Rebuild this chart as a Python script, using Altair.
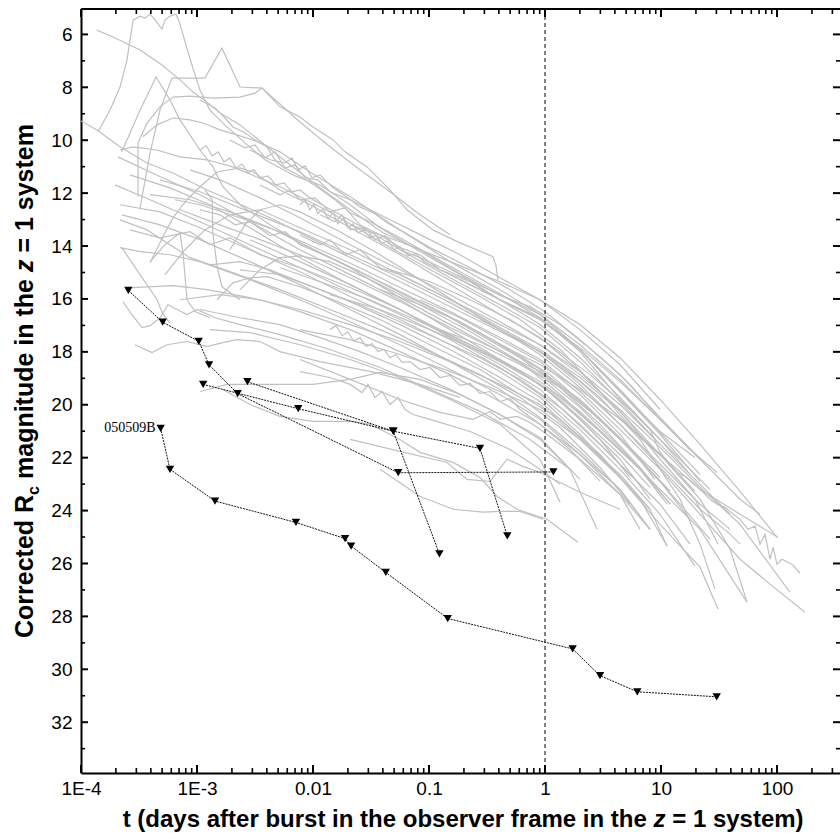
import altair as alt
import pandas as pd

# ---------------- grey afterglow light curves: (t in days, corrected Rc mag) ----------------
L_A = [(1.40e-4, 9.69), (1.78e-4, 8.86), (2.17e-4, 7.99), (2.49e-4, 6.97), (2.81e-4, 5.46), (3.23e-4, 5.31),
       (3.57e-4, 5.38), (3.94e-4, 5.23), (4.35e-4, 5.46), (4.99e-4, 5.80), (5.30e-4, 5.46), (5.85e-4, 5.31),
       (6.59e-4, 5.23), (7.13e-4, 5.61), (8.04e-4, 6.40), (9.05e-4, 7.16), (1.06e-3, 8.10), (1.29e-3, 8.86),
       (1.74e-3, 9.42), (2.59e-3, 10.10), (3.85e-3, 10.74), (7.00e-3, 11.35), (0.0115, 11.69), (0.0209, 12.44),
       (0.0378, 13.31), (0.0836, 14.21), (0.185, 15.08), (0.409, 16.03), (0.905, 16.71), (2.00, 17.91),
       (4.43, 19.50), (9.81, 21.01), (19.6, 21.99)]
L_B = [(1.37e-4, 5.84), (1.89e-4, 6.10), (3.23e-4, 6.59), (4.99e-4, 7.16), (7.13e-4, 7.72), (9.24e-4, 8.18),
       (1.22e-3, 8.56), (1.58e-3, 8.97), (2.35e-3, 9.42), (3.85e-3, 10.18), (6.33e-3, 10.93), (0.0115, 11.80),
       (0.0209, 12.63), (0.0401, 13.50), (0.0836, 14.14), (0.185, 15.05), (0.409, 15.87), (0.742, 16.29),
       (1.35, 16.97), (2.98, 18.18), (5.40, 19.23), (9.81, 20.55), (17.8, 21.69), (30.4, 22.56)]
L_N = [(1.06e-3, 8.48), (1.43e-3, 8.78), (1.74e-3, 9.16), (2.04e-3, 9.50), (2.59e-3, 9.72), (3.16e-3, 9.99),
       (4.01e-3, 10.25), (4.70e-3, 10.74), (5.51e-3, 11.01), (7.72e-3, 11.35), (0.0108, 11.76), (0.0155, 12.25),
       (0.0209, 12.74), (0.0310, 13.08), (0.0562, 13.69), (0.102, 14.33), (0.185, 14.97), (0.409, 15.80),
       (0.905, 16.71), (2.00, 17.99), (4.43, 19.80), (8.04, 20.93), (9.81, 21.80), (13.7, 22.56), (16.7, 22.75),
       (21.7, 23.20), (26.4, 23.57), (30.4, 23.76), (35.6, 23.88), (48.0, 24.33), (56.2, 24.71), (64.6, 24.59),
       (71.3, 25.27), (78.8, 24.89), (87.0, 25.84), (92.5, 25.39), (100, 26.03), (110, 25.84), (124, 25.95),
       (137, 26.06), (158, 26.37)]
L_NZ = [(2.86e-3, 10.37), (4.26e-3, 10.74), (5.74e-3, 10.86), (6.59e-3, 10.67), (7.43e-3, 11.12), (8.53e-3, 10.97),
        (9.80e-3, 11.42), (0.0115, 11.31), (0.0149, 11.80), (0.0189, 12.10), (0.0254, 12.52), (0.0342, 12.78),
        (0.0435, 13.12), (0.0562, 13.39), (0.102, 14.06), (0.226, 14.82), (0.499, 15.65), (1.00, 16.48),
        (2.00, 17.54), (4.43, 18.86), (9.81, 20.48), (21.7, 22.06)]
L_C = [(3.23e-4, 12.56), (3.94e-4, 10.48), (4.80e-4, 8.86), (6.08e-4, 7.65), (8.70e-4, 7.65), (1.17e-3, 7.65),
       (1.64e-3, 6.52), (2.35e-3, 7.99), (3.63e-3, 8.03), (5.19e-3, 8.74), (7.72e-3, 9.12), (0.0100, 9.50),
       (0.0149, 9.99), (0.0189, 10.44), (0.0292, 11.01), (0.0461, 11.88), (0.0646, 12.63), (0.108, 13.39),
       (0.185, 13.88), (0.356, 14.40), (0.378, 14.74), (0.393, 15.31)]
L_D = [(3.10e-4, 12.14), (3.10e-4, 10.10), (3.71e-4, 9.35), (4.80e-4, 8.74), (6.21e-4, 8.37), (8.70e-4, 8.33),
       (1.40e-3, 8.41), (2.35e-3, 8.37), (3.16e-3, 8.22), (3.63e-3, 8.03), (5.19e-3, 8.63), (7.72e-3, 9.31),
       (0.0140, 10.25), (0.0254, 11.12), (0.0461, 11.95), (0.0836, 12.82), (0.152, 13.57)]
L_E = [(2.25e-4, 10.44), (3.23e-4, 8.86), (4.44e-4, 7.61), (5.85e-4, 8.48), (7.13e-4, 9.23), (1.06e-3, 10.37),
       (1.37e-3, 11.01), (1.67e-3, 11.76), (2.35e-3, 12.44), (4.26e-3, 13.20), (7.72e-3, 13.88), (0.0209, 14.82),
       (0.0562, 15.95), (0.152, 16.97), (0.409, 17.99), (0.905, 18.86), (2.00, 20.10), (4.43, 21.61), (8.04, 22.82)]
L_G = [(3.42e-4, 9.87), (4.52e-4, 9.42), (6.21e-4, 9.16), (8.70e-4, 9.23), (1.13e-3, 9.35), (1.58e-3, 9.61),
       (2.21e-3, 9.80), (3.04e-3, 9.99), (5.19e-3, 10.44), (9.42e-3, 11.20), (0.0209, 12.14), (0.0562, 13.39),
       (0.152, 14.59), (0.409, 15.65), (0.905, 16.59), (2.00, 17.91), (4.43, 19.50), (9.81, 21.12), (21.7, 22.90)]
L_H = [(1.00e-4, 9.27), (1.37e-4, 9.61), (2.17e-4, 10.25), (3.71e-4, 10.86), (6.21e-4, 11.24), (1.22e-3, 11.88),
       (1.92e-3, 12.25), (4.26e-3, 12.93), (0.0115, 13.88), (0.0378, 14.97), (0.124, 16.10), (0.409, 17.23),
       (0.905, 17.99), (2.00, 19.23), (4.43, 20.74), (9.81, 22.37), (21.7, 23.95), (39.4, 24.89), (48.0, 25.27)]
L_J = [(2.17e-4, 10.37), (2.81e-4, 10.25), (4.52e-4, 10.37), (7.13e-4, 10.63), (1.22e-3, 10.74), (2.04e-3, 11.01),
       (5.19e-3, 11.76), (0.0140, 12.71), (0.0378, 13.84), (0.102, 14.89), (0.275, 15.91), (0.608, 16.78),
       (1.35, 17.91), (2.98, 19.50), (6.59, 21.24), (11.3, 22.14)]
L_K1 = [(3.94e-4, 14.63), (5.30e-4, 13.50), (6.21e-4, 12.93), (8.20e-4, 12.25), (1.06e-3, 11.76), (1.49e-3, 11.20),
        (2.35e-3, 11.05), (3.04e-3, 11.20), (5.19e-3, 11.88), (9.42e-3, 12.44), (0.0209, 13.31), (0.0562, 14.33),
        (0.152, 15.46), (0.409, 16.59), (0.905, 17.46), (2.00, 18.74), (4.43, 20.25), (9.81, 21.88), (19.6, 23.27)]
L_K2 = [(1.49e-3, 16.03), (2.04e-3, 15.39), (2.86e-3, 15.20), (4.01e-3, 15.16), (7.72e-3, 15.54), (0.0149, 16.03),
        (0.0378, 16.78), (0.102, 17.73), (0.275, 18.67), (0.608, 19.61), (1.35, 20.55), (2.98, 21.88),
        (6.59, 23.57), (11.3, 25.35)]
L_K4 = [(3.94e-4, 14.59), (5.30e-4, 13.95), (7.13e-4, 13.50), (7.57e-4, 14.25), (8.20e-4, 16.03), (9.62e-4, 16.48),
        (1.29e-3, 16.71)]
L_K5 = [(1.17e-3, 11.88), (1.35e-3, 12.25), (1.37e-3, 13.50), (1.49e-3, 14.78), (1.64e-3, 15.54), (2.35e-3, 16.03)]
L_G1 = [(2.08e-4, 10.63), (3.94e-4, 11.20), (1.06e-3, 12.06), (2.86e-3, 13.08), (7.72e-3, 14.14), (0.0209, 15.08),
        (0.0562, 16.03), (0.152, 17.16), (0.409, 18.29), (0.905, 19.23), (2.00, 20.55), (4.43, 22.06), (8.04, 23.57)]
L_G2 = [(1.96e-4, 11.69), (3.94e-4, 12.25), (1.06e-3, 13.08), (2.86e-3, 13.95), (7.72e-3, 14.82), (0.0209, 15.72),
        (0.0562, 16.59), (0.152, 17.54), (0.409, 18.59), (0.905, 19.61), (2.00, 20.93), (4.43, 22.44),
        (9.81, 24.14), (19.6, 26.10)]
L_G3 = [(2.17e-4, 12.44), (4.80e-4, 12.71), (1.06e-3, 13.31), (2.86e-3, 14.14), (7.72e-3, 14.97), (0.0209, 15.91),
        (0.0562, 16.78), (0.152, 17.73), (0.409, 18.74), (0.905, 19.72), (2.00, 21.12), (4.43, 22.75),
        (9.81, 24.52), (21.7, 26.14), (31.0, 27.73)]
L_G4 = [(2.25e-4, 12.82), (4.80e-4, 13.20), (1.06e-3, 13.76), (2.86e-3, 14.59), (7.72e-3, 15.46), (0.0209, 16.40),
        (0.0562, 17.35), (0.152, 18.37), (0.409, 19.42), (0.905, 20.48), (2.00, 21.76), (4.43, 23.20), (8.04, 24.71)]
L_G5 = [(2.17e-4, 14.06), (3.23e-4, 14.21), (5.85e-4, 14.33), (1.06e-3, 14.59), (2.86e-3, 15.27), (7.72e-3, 16.03),
        (0.0209, 16.86), (0.0562, 17.73), (0.152, 18.67), (0.409, 19.61), (0.905, 20.55), (2.00, 21.88),
        (4.43, 23.39), (6.59, 24.71)]
L_G6 = [(2.64e-4, 13.39), (4.80e-4, 13.69), (8.70e-4, 13.46), (1.29e-3, 13.95), (1.92e-3, 13.69), (3.49e-3, 14.33),
        (7.72e-3, 14.82), (0.0209, 15.57), (0.0562, 16.40), (0.152, 17.35), (0.409, 18.29), (0.905, 19.12),
        (2.00, 20.25), (4.43, 21.69), (9.81, 23.20), (21.7, 24.71), (55.1, 27.46)]
L_G7 = [(4.80e-4, 11.50), (1.06e-3, 11.95), (2.86e-3, 12.71), (7.72e-3, 13.46), (0.0209, 14.33), (0.0562, 15.20),
        (0.152, 16.14), (0.409, 17.16), (0.905, 17.99), (2.00, 19.12), (4.43, 20.48), (9.81, 21.88),
        (21.7, 23.20), (48.0, 24.14), (102, 25.01)]
L_G8 = [(6.46e-4, 12.25), (1.06e-3, 12.44), (2.35e-3, 12.93), (5.19e-3, 13.46), (0.0115, 14.14), (0.0254, 14.82),
        (0.0562, 15.57), (0.152, 16.48), (0.409, 17.46), (0.905, 18.29), (2.00, 19.50), (4.43, 20.93),
        (9.81, 22.44), (21.7, 24.14), (48.0, 25.84), (87.0, 26.78), (174, 27.84)]
L_G9 = [(8.70e-4, 11.12), (1.58e-3, 11.50), (3.49e-3, 12.18), (7.72e-3, 12.93), (0.0209, 13.95), (0.0562, 14.90),
        (0.152, 15.84), (0.409, 16.86), (0.905, 17.73), (2.00, 18.86), (4.43, 20.18), (9.81, 21.61),
        (21.7, 23.12), (48.0, 24.52), (129, 27.08)]
L_G10 = [(5.30e-4, 15.08), (7.88e-4, 14.14), (1.17e-3, 13.39), (1.92e-3, 12.82), (3.49e-3, 12.63), (7.72e-3, 13.31),
         (0.0209, 14.14), (0.0562, 15.08), (0.152, 16.03), (0.409, 17.08), (0.905, 17.91), (2.00, 18.97),
         (4.43, 20.25), (9.81, 22.06), (19.6, 23.57), (31.0, 25.27)]
L_G11 = [(1.29e-3, 14.71), (2.35e-3, 14.59), (4.26e-3, 14.90), (7.72e-3, 15.35), (0.0209, 16.10), (0.0562, 16.97),
         (0.152, 17.91), (0.409, 18.97), (0.905, 19.88), (2.00, 21.24), (4.43, 22.75), (8.04, 23.95), (11.3, 25.35)]
L_G12 = [(7.13e-4, 16.03), (1.58e-3, 15.84), (3.49e-3, 16.03), (7.72e-3, 16.48), (0.0209, 17.16), (0.0562, 17.99),
         (0.152, 18.86), (0.409, 19.88), (0.905, 20.74), (2.00, 21.88), (4.43, 23.20), (8.04, 24.71)]
L_G13 = [(1.06e-3, 16.40), (2.35e-3, 16.71), (5.19e-3, 16.97), (0.0115, 17.46), (0.0254, 17.99), (0.0562, 18.59),
         (0.152, 19.42), (0.409, 20.37), (0.905, 21.31), (1.64, 22.44), (2.81, 24.71)]
L_G14 = [(1.29e-3, 17.16), (2.86e-3, 17.27), (7.72e-3, 17.73), (0.0209, 18.29), (0.0562, 18.97), (0.152, 19.80),
         (0.409, 20.74), (0.905, 22.06), (1.35, 23.69)]
L_G15 = [(1.06e-3, 12.63), (1.58e-3, 12.82), (2.13e-3, 13.20), (2.86e-3, 13.08), (4.26e-3, 13.61), (5.74e-3, 13.46),
         (7.72e-3, 13.95), (0.0140, 14.44), (0.0254, 14.97), (0.0562, 15.72), (0.124, 16.48), (0.275, 17.35),
         (0.608, 18.22), (1.35, 19.35), (2.98, 20.74), (6.59, 22.37), (12.0, 23.76)]
L_G16 = [(2.64e-4, 11.31), (5.85e-4, 11.80), (1.29e-3, 12.44), (2.86e-3, 13.31), (7.72e-3, 14.44), (0.0209, 15.46),
         (0.0562, 16.40), (0.152, 17.46), (0.409, 18.48), (0.905, 19.42), (2.00, 20.74), (4.43, 22.25),
         (9.81, 23.76), (17.8, 25.27)]
L_G17 = [(1.92e-3, 14.14), (2.59e-3, 13.20), (3.49e-3, 12.63), (5.19e-3, 12.44), (7.72e-3, 12.71), (0.0171, 13.46),
         (0.0378, 14.33), (0.0836, 15.27), (0.185, 16.22), (0.409, 17.16), (0.905, 18.10), (2.00, 19.35),
         (4.43, 20.74), (9.81, 22.25), (21.7, 23.76), (39.4, 24.71)]
L_G18 = [(2.35e-3, 15.65), (3.49e-3, 14.90), (5.19e-3, 14.44), (7.72e-3, 14.37), (0.0140, 14.59), (0.0310, 15.27),
         (0.0836, 16.22), (0.226, 17.23), (0.608, 18.37), (1.35, 19.61), (2.98, 21.01), (6.59, 22.44), (11.3, 23.76)]
L_G19 = [(3.49e-3, 11.69), (5.19e-3, 12.06), (6.33e-3, 11.88), (7.72e-3, 12.25), (0.0104, 12.18), (0.0140, 12.71),
         (0.0189, 12.56), (0.0254, 13.20), (0.0378, 13.57), (0.0562, 14.06), (0.0836, 14.33), (0.124, 14.90),
         (0.226, 15.35), (0.409, 16.03), (0.905, 16.97), (2.00, 18.22), (4.43, 19.72), (9.81, 21.31), (17.8, 22.63)]
L_G20 = [(2.75e-4, 15.57), (6.21e-4, 15.50), (1.22e-3, 15.65), (2.86e-3, 15.95), (7.72e-3, 16.40), (0.0209, 16.97),
         (0.0562, 17.61), (0.152, 18.37), (0.409, 19.23), (0.905, 19.99), (2.00, 21.31), (4.43, 22.75)]
L_G21 = [(2.17e-4, 13.01), (3.71e-4, 13.39), (5.51e-4, 13.88), (8.70e-4, 14.44), (1.92e-3, 14.97), (5.19e-3, 15.65),
         (0.0140, 16.40), (0.0378, 17.16), (0.102, 17.99), (0.275, 18.86), (0.608, 19.72), (1.35, 20.86),
         (2.98, 22.37), (5.40, 23.76)]
L_M1 = [(2.86e-3, 13.76), (7.72e-3, 14.59), (0.0209, 15.46), (0.0562, 16.40), (0.152, 17.43), (0.409, 18.37),
        (0.905, 19.23), (2.00, 20.48), (4.43, 21.88), (8.04, 23.12)]
L_M2 = [(5.19e-3, 14.82), (0.0115, 15.35), (0.0310, 16.03), (0.0836, 16.86), (0.226, 17.73), (0.608, 18.74),
        (1.35, 19.72), (2.98, 21.01), (6.59, 22.44), (12.0, 23.76)]
L_M3 = [(7.72e-3, 13.58), (0.0115, 13.95), (0.0140, 13.76), (0.0189, 14.33), (0.0254, 14.14), (0.0378, 14.82),
        (0.0562, 15.08), (0.102, 15.65), (0.226, 16.40), (0.409, 16.97), (0.905, 17.73), (2.00, 18.74),
        (4.43, 19.99), (9.81, 21.50), (21.7, 23.01), (39.4, 24.14)]
L_M4 = [(0.0140, 15.84), (0.0378, 16.40), (0.102, 17.16), (0.275, 17.99), (0.608, 18.74), (1.35, 19.80),
        (2.98, 21.31), (5.40, 22.75)]
L_M5 = [(0.0461, 14.90), (0.102, 15.35), (0.226, 16.03), (0.499, 16.78), (1.10, 17.73), (2.44, 18.86),
        (5.40, 20.18), (12.0, 21.69), (26.4, 23.20)]
L_M6 = [(0.0836, 16.03), (0.185, 16.71), (0.409, 17.54), (0.905, 18.37), (2.00, 19.61), (4.43, 21.12), (8.87, 22.82)]
L_M7 = [(0.124, 17.16), (0.275, 17.73), (0.608, 18.48), (1.35, 19.35), (2.98, 20.55), (6.59, 22.06),
        (14.6, 23.76), (26.4, 25.08)]
L_M8 = [(0.185, 15.27), (0.409, 16.03), (0.905, 16.78), (2.00, 17.84), (4.43, 19.12), (9.81, 20.55),
        (21.7, 22.06), (48.0, 23.57), (71.3, 24.14)]
L_M9 = [(0.275, 16.78), (0.608, 17.54), (1.35, 18.48), (2.98, 19.72), (6.59, 21.31), (14.6, 23.57),
        (21.7, 25.27), (29.2, 26.97)]
L_M10 = [(0.409, 17.73), (0.905, 18.48), (2.00, 19.42), (4.43, 20.55), (9.81, 21.88), (21.7, 23.57),
         (39.4, 25.46), (55.1, 27.46)]
L_M11 = [(0.0115, 12.82), (0.0155, 13.08), (0.0178, 12.82), (0.0209, 13.39), (0.0281, 13.31), (0.0342, 13.76),
         (0.0418, 13.61), (0.0562, 14.14), (0.0836, 14.44), (0.152, 14.97), (0.409, 15.84), (0.905, 16.59),
         (2.00, 17.73), (4.43, 19.04), (9.81, 20.55), (17.8, 21.69)]
L_M12 = [(7.72e-3, 17.16), (0.0209, 17.54), (0.0562, 18.10), (0.152, 18.74), (0.409, 19.50), (0.905, 20.18),
         (2.00, 21.31), (4.43, 22.63), (8.04, 23.95)]
L_M13 = [(2.35e-3, 14.90), (5.19e-3, 15.08), (0.0115, 15.65), (0.0254, 16.22), (0.0562, 16.86), (0.124, 17.54),
         (0.275, 18.22), (0.608, 19.04), (1.35, 20.10), (2.98, 21.50), (6.59, 23.01)]
L_M14 = [(0.0209, 13.20), (0.0562, 13.84), (0.152, 14.59), (0.409, 15.35), (0.905, 16.03), (2.00, 16.97),
         (4.43, 18.22), (9.81, 19.80), (21.7, 21.50), (48.0, 23.27), (100, 25.01)]
L_M15 = [(0.0378, 15.65), (0.0836, 16.22), (0.185, 16.86), (0.409, 17.73), (0.905, 18.67), (2.00, 19.88),
         (4.43, 21.31), (9.81, 22.90), (17.8, 24.33)]
L_M16 = [(7.13e-4, 12.63), (1.58e-3, 13.20), (3.49e-3, 13.76), (7.72e-3, 14.33), (0.0209, 15.20), (0.0562, 16.10),
         (0.152, 17.08), (0.409, 17.99), (0.905, 18.74), (2.00, 19.80), (4.43, 21.24), (9.81, 22.75)]
L_M17 = [(3.94e-4, 12.06), (8.70e-4, 12.25), (1.92e-3, 12.71), (4.26e-3, 13.31), (9.42e-3, 14.06), (0.0254, 14.97),
         (0.0686, 15.95), (0.185, 16.86), (0.499, 17.91), (1.10, 18.86), (2.44, 20.18), (5.40, 21.69), (12.0, 23.27)]
L_M18 = [(1.92e-3, 9.99), (2.59e-3, 10.29), (3.16e-3, 10.18), (3.85e-3, 10.67), (4.70e-3, 10.44), (5.74e-3, 11.05),
         (7.00e-3, 10.93), (8.53e-3, 11.42), (0.0110, 11.50), (0.0140, 11.95), (0.0209, 12.25), (0.0378, 12.82),
         (0.0836, 13.57), (0.185, 14.33), (0.409, 15.20), (0.905, 16.03), (2.00, 17.16), (4.43, 18.48),
         (9.81, 20.18)]
# noisy (jagged) light curves
L_Q1 = [(7.72e-3, 12.44), (8.53e-3, 12.25), (9.42e-3, 12.63), (0.0102, 12.40), (0.0110, 12.78), (0.0122, 12.59),
        (0.0135, 12.97), (0.0149, 12.74), (0.0164, 13.16), (0.0181, 12.97), (0.0200, 13.31), (0.0221, 13.16),
        (0.0244, 13.50), (0.0275, 13.39), (0.0310, 13.69), (0.0349, 13.61), (0.0394, 13.91), (0.0443, 13.80),
        (0.0499, 14.14), (0.0562, 14.03), (0.0659, 14.37), (0.0773, 14.29), (0.0906, 14.59), (0.124, 14.90),
        (0.226, 15.46), (0.409, 16.03), (0.905, 16.78), (2.00, 17.91), (4.43, 19.42), (9.81, 21.05), (21.7, 22.63)]
L_Q2 = [(0.0140, 17.16), (0.0158, 17.01), (0.0178, 17.39), (0.0200, 17.24), (0.0225, 17.61), (0.0254, 17.46),
        (0.0286, 17.80), (0.0323, 17.69), (0.0363, 17.99), (0.0409, 17.91), (0.0461, 18.22), (0.0519, 18.10),
        (0.0585, 18.40), (0.0686, 18.37), (0.0836, 18.67), (0.102, 18.59), (0.124, 18.97), (0.152, 18.89),
        (0.185, 19.27), (0.226, 19.19), (0.275, 19.57), (0.336, 19.50), (0.409, 19.88), (0.499, 19.76),
        (0.608, 20.18), (0.905, 20.74), (1.64, 21.69), (2.98, 22.89)]
L_Q3 = [(1.06e-3, 10.37), (1.20e-3, 10.21), (1.35e-3, 10.59), (1.52e-3, 10.44), (1.71e-3, 10.82), (1.92e-3, 10.67),
        (2.17e-3, 11.05), (2.44e-3, 10.90), (2.75e-3, 11.23), (3.10e-3, 11.12), (3.49e-3, 11.42), (4.09e-3, 11.35),
        (4.80e-3, 11.69), (5.62e-3, 11.61), (6.59e-3, 11.95), (7.72e-3, 11.88), (9.42e-3, 12.18), (0.0115, 12.40),
        (0.0171, 12.82), (0.0310, 13.46), (0.0562, 14.14), (0.152, 15.20), (0.409, 16.22), (0.905, 17.08),
        (2.00, 18.37), (4.43, 19.88), (9.81, 21.50)]
L_LO1 = [(1.67e-3, 19.42), (2.86e-3, 19.99), (5.19e-3, 20.44), (0.0100, 20.63), (0.0221, 20.63), (0.0310, 20.74),
         (0.0562, 21.31), (0.0836, 21.80), (0.161, 22.18), (0.275, 22.75), (0.386, 23.46), (0.574, 23.95),
         (1.04, 24.33), (1.92, 25.20)]
L_LO2 = [(1.06e-3, 19.50), (1.82e-3, 19.23), (4.26e-3, 19.23), (0.0100, 19.23), (0.0209, 19.04), (0.0378, 18.78),
         (0.0836, 19.04), (0.185, 19.61), (0.409, 20.37), (0.905, 21.24), (2.00, 22.82)]
L_LO3 = [(7.72e-3, 18.75), (0.0140, 18.97), (0.0209, 19.23), (0.0264, 19.54), (0.0298, 19.23), (0.0342, 19.73),
         (0.0394, 19.50), (0.0461, 19.99), (0.0541, 19.73), (0.0621, 20.18), (0.0728, 20.37), (0.102, 20.55),
         (0.226, 21.01), (0.499, 21.69), (0.905, 22.44), (1.35, 23.01)]
L_LO4 = [(7.72e-3, 18.29), (0.0209, 19.04), (0.0562, 19.80), (0.124, 20.29), (0.239, 20.55), (0.336, 20.25),
         (0.409, 20.55), (0.499, 20.48), (0.574, 20.44), (0.742, 20.67), (0.905, 20.93), (2.00, 22.06),
         (4.43, 23.39), (8.04, 24.71)]
L_LO5 = [(0.0209, 21.31), (0.0562, 21.76), (0.143, 22.18), (0.213, 22.82), (0.336, 22.90), (0.470, 22.06),
         (0.646, 22.33), (0.905, 22.56), (2.00, 23.31), (4.43, 23.95)]
L_LO6 = [(0.0378, 22.44), (0.0836, 23.46), (0.161, 23.95), (0.292, 24.06), (0.409, 24.03), (0.608, 24.03),
         (0.962, 24.33)]
L_O1 = [(2.25e-4, 14.06), (3.10e-4, 14.97), (4.52e-4, 16.03), (5.09e-4, 16.59), (5.85e-4, 16.90)]
L_O2 = [(2.30e-4, 16.10), (2.70e-4, 16.55), (3.36e-4, 17.08), (3.94e-4, 17.01), (4.80e-4, 16.71), (5.62e-4, 16.22),
        (6.73e-4, 16.40), (8.20e-4, 16.59), (1.00e-3, 16.40), (1.43e-3, 16.71), (2.35e-3, 16.97), (5.19e-3, 17.35),
        (0.0140, 17.91), (0.0378, 18.59), (0.102, 19.42), (0.275, 20.25), (0.742, 21.31), (1.64, 22.44)]
L_O3 = [(2.92e-4, 17.73), (4.09e-4, 18.03), (5.51e-4, 17.73), (8.20e-4, 17.61), (1.22e-3, 17.80), (1.67e-3, 17.65),
        (2.21e-3, 17.54), (3.49e-3, 17.61), (5.19e-3, 17.99), (0.0115, 18.37), (0.0310, 18.74), (0.0836, 19.23),
        (0.185, 19.72)]

GREY_CURVES = [L_A, L_B, L_N, L_NZ, L_C, L_D, L_E, L_G, L_H, L_J, L_K1, L_K2, L_K4, L_K5,
               L_G1, L_G2, L_G3, L_G4, L_G5, L_G6, L_G7, L_G8, L_G9, L_G10, L_G11, L_G12, L_G13, L_G14,
               L_G15, L_G16, L_G17, L_G18, L_G19, L_G20, L_G21,
               L_M1, L_M2, L_M3, L_M4, L_M5, L_M6, L_M7, L_M8, L_M9, L_M10, L_M11, L_M12, L_M13, L_M14,
               L_M15, L_M16, L_M17, L_M18, L_Q1, L_Q2, L_Q3,
               L_LO1, L_LO2, L_LO3, L_LO4, L_LO5, L_LO6, L_O1, L_O2, L_O3]

# ---------------- black upper-limit series (triangles) ----------------
S_1 = [(2.56e-4, 15.68), (5.06e-4, 16.88), (1.035e-3, 17.60), (1.27e-3, 18.49), (2.24e-3, 19.58),
       (5.43e-2, 22.57), (1.18, 22.54)]
S_2 = [(1.13e-3, 19.23), (7.46e-3, 20.15), (4.92e-2, 21.00), (0.123, 25.64)]
S_3 = [(2.72e-3, 19.13), (4.92e-2, 21.00), (0.275, 21.65), (0.473, 24.96)]
S_050509B = [(4.86e-4, 20.89), (5.85e-4, 22.44), (1.43e-3, 23.64), (7.13e-3, 24.45), (0.0189, 25.06),
             (0.0213, 25.34), (0.0424, 26.34), (0.145, 28.08), (1.73, 29.23), (2.98, 30.24), (6.25, 30.85),
             (30.2, 31.04)]
BLACK_SERIES = [S_1, S_2, S_3, S_050509B]
LABEL_TEXT = "050509B"

# ---------------- axes ----------------
X_MAJOR = [1e-4, 1e-3, 1e-2, 1e-1, 1, 10, 100]
X_MINOR = [m * d for d in [1e-4, 1e-3, 1e-2, 1e-1, 1, 10, 100] for m in range(2, 10) if m * d <= 340]
Y_MAJOR = list(range(6, 33, 2))
Y_MINOR = list(range(7, 34, 2))
X_DOMAIN = [1e-4, 349]
Y_DOMAIN = [5.04, 33.92]
VLINE_T = [1]

W, H = 759, 764
FONT = "Liberation Sans"

grey_rows = []
for i, curve in enumerate(GREY_CURVES):
    for k, (t, m) in enumerate(curve):
        grey_rows.append({"id": i, "k": k, "t": t, "mag": m})
df_grey = pd.DataFrame(grey_rows)

black_rows = []
for i, curve in enumerate(BLACK_SERIES):
    for k, (t, m) in enumerate(curve):
        black_rows.append({"id": i, "k": k, "t": t, "mag": m})
df_black = pd.DataFrame(black_rows)
df_label = pd.DataFrame([{"t": S_050509B[0][0], "mag": S_050509B[0][1], "txt": LABEL_TEXT}])

xs = alt.Scale(type="log", domain=X_DOMAIN, nice=False)
ys = alt.Scale(domain=Y_DOMAIN, reverse=True, nice=False, zero=False)

label_expr = ("datum.value < 0.0005 ? '1E-4' : datum.value < 0.005 ? '1E-3' : datum.value < 0.05 ? '0.01' : "
              "datum.value < 0.5 ? '0.1' : datum.value < 5 ? '1' : datum.value < 50 ? '10' : '100'")
x_axis = alt.Axis(values=X_MAJOR, labelExpr=label_expr, ticks=False, grid=False, title=None,
                  domainColor="black", domainWidth=2, labelFont=FONT, labelFontSize=19, labelColor="black",
                  labelPadding=6, labelFlush=False, labelOverlap=False)
y_axis = alt.Axis(values=Y_MAJOR, ticks=False, grid=False, title=None, domainColor="black", domainWidth=2,
                  labelFont=FONT, labelFontSize=19, labelColor="black", labelPadding=9)

X_ENC = dict(scale=xs, axis=x_axis)
Y_ENC = dict(scale=ys, axis=y_axis)

grey = alt.Chart(df_grey).mark_line(color="#c0c0c0", strokeWidth=1.2, clip=True).encode(
    x=alt.X("t:Q", **X_ENC),
    y=alt.Y("mag:Q", **Y_ENC),
    detail="id:N",
    order="k:Q",
)

vline = alt.Chart(pd.DataFrame({"t": VLINE_T})).mark_rule(color="black", strokeWidth=1, strokeDash=[4, 3]).encode(
    x=alt.X("t:Q", **X_ENC)
)

black_line = alt.Chart(df_black).mark_line(color="#111111", strokeWidth=1.0, strokeDash=[2, 1]).encode(
    x=alt.X("t:Q", **X_ENC),
    y=alt.Y("mag:Q", **Y_ENC),
    detail="id:N",
    order="k:Q",
)
black_pts = alt.Chart(df_black).mark_point(shape="triangle-down", filled=True, color="black", size=70,
                                           opacity=1).encode(
    x=alt.X("t:Q", **X_ENC),
    y=alt.Y("mag:Q", **Y_ENC),
)
label = alt.Chart(df_label).mark_text(align="right", baseline="middle", dx=-5, font="Liberation Serif",
                                      fontSize=14, color="black").encode(
    x=alt.X("t:Q", **X_ENC),
    y=alt.Y("mag:Q", **Y_ENC),
    text="txt:N",
)

# manual inward ticks
df_xmaj = pd.DataFrame({"t": X_MAJOR})
df_xmin = pd.DataFrame({"t": X_MINOR})
df_ymaj = pd.DataFrame({"mag": Y_MAJOR})
df_ymin = pd.DataFrame({"mag": Y_MINOR})


def xticks(df, y0, y1, w):
    return alt.Chart(df).mark_rule(color="black", strokeWidth=w).encode(
        x=alt.X("t:Q", **X_ENC), y=alt.value(y0), y2=alt.value(y1))


def yticks(df, x0, x1, w):
    return alt.Chart(df).mark_rule(color="black", strokeWidth=w).encode(
        y=alt.Y("mag:Q", **Y_ENC), x=alt.value(x0), x2=alt.value(x1))


ticks = [
    xticks(df_xmaj, H, H - 8, 2), xticks(df_xmin, H, H - 5, 1.6),
    xticks(df_xmaj, 0, 8, 2), xticks(df_xmin, 0, 5, 1.6),
    yticks(df_ymaj, 0, 7, 2), yticks(df_ymin, 0, 4, 1.6),
    yticks(df_ymaj, W, W - 7, 2), yticks(df_ymin, W, W - 4, 1.6),
]

one = alt.Data(values=[{}])
top_border = alt.Chart(one).mark_rule(color="black", strokeWidth=2).encode(
    x=alt.value(0), x2=alt.value(W), y=alt.value(0))


def txt(s, x, y, size, angle=0, italic=False):
    kw = dict(align="left", baseline="alphabetic", font=FONT, fontSize=size, fontWeight="bold", color="black")
    if angle:
        kw["angle"] = angle
    if italic:
        kw["fontStyle"] = "italic"
    return alt.Chart(one).mark_text(**kw).encode(x=alt.value(x), y=alt.value(y), text=alt.value(s))


# x-axis title pieces (size 24)
XT_Y = 818
x_title = [
    txt("t (days after burst in the observer frame in the", 41.7, XT_Y, 24),
    txt("z", 572.5, XT_Y, 24, italic=True),
    txt("= 1 system)", 591.2, XT_Y, 24),
]
# y-axis title pieces (size 25, rotated)
YT_X = -47.7
y_title = [
    txt("Corrected R", YT_X, 629, 25, angle=270),
    txt("c", YT_X + 6, 485.9, 16, angle=270),
    txt("magnitude in the", YT_X, 470.0, 25, angle=270),
    txt("z", YT_X, 263.1, 25, angle=270, italic=True),
    txt("= 1 system", YT_X, 243.6, 25, angle=270),
]

chart = alt.layer(grey, vline, black_line, black_pts, label, top_border, *ticks, *x_title, *y_title).properties(
    width=W, height=H,
    padding={"left": 81, "top": 9, "right": 0, "bottom": 66},
    autosize=alt.AutoSizeParams(type="none"),
    background="white",
).configure_view(stroke=None)

chart.save("out.html", embed_options={"renderer": "svg", "actions": False})
